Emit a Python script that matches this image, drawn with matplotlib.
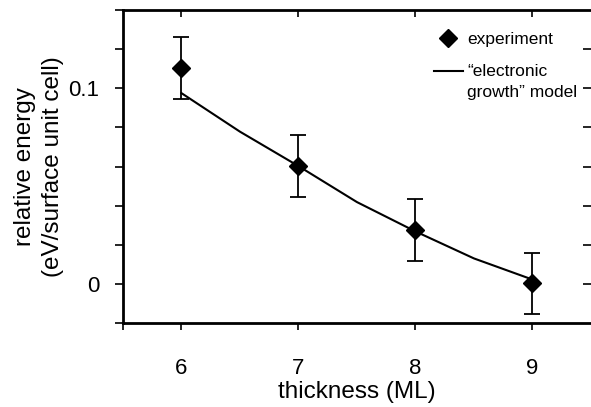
import matplotlib
matplotlib.use("Agg")
import matplotlib.pyplot as plt
from matplotlib.legend_handler import HandlerLine2D

plt.rcParams['font.family'] = ['Liberation Sans', 'DejaVu Sans']

# experiment (diamonds with error bars)
thickness = [6, 7, 8, 9]
energy = [0.1105, 0.0602, 0.0276, 0.0002]
energy_err = [0.0158, 0.0157, 0.0158, 0.0158]

# "electronic growth" model curve
model_x = [6, 6.5, 7, 7.5, 8, 8.5, 9]
model_y = [0.0975, 0.0778, 0.0602, 0.0418, 0.0268, 0.0130, 0.0022]

xticks = [5.5, 6, 7, 8, 9]
xticklabels = ['', '6', '7', '8', '9']
yticks = [-0.02, 0, 0.02, 0.04, 0.06, 0.08, 0.1, 0.12, 0.14]
yticklabels = ['', '0', '', '', '', '', '0.1', '', '']


class FirstLineHandler(HandlerLine2D):
    # put the line next to the first text line instead of the middle
    def __init__(self, rise, **kw):
        super().__init__(**kw)
        self.rise = rise

    def create_artists(self, legend, orig_handle, xdescent, ydescent,
                       width, height, fontsize, trans):
        return super().create_artists(legend, orig_handle, xdescent,
                                      ydescent - 2 * self.rise, width, height,
                                      fontsize, trans)


fig = plt.figure(figsize=(5.91, 4.07), dpi=100)
ax = fig.add_axes([0.2081, 0.2064, 0.7919, 0.769])

model_line, = ax.plot(model_x, model_y, color='black', lw=1.5,
                      label='\u201celectronic\ngrowth\u201d model')
ax.errorbar(thickness, energy, yerr=energy_err, fmt='none', ecolor='black',
            elinewidth=1.3, capsize=5.5, capthick=1.3)
exp_pts, = ax.plot(thickness, energy, 'D', color='black', ms=9, ls='none',
                   label='experiment')

ax.set_xlim(5.5, 9.5)
ax.set_ylim(-0.02, 0.14)
ax.set_xticks(xticks)
ax.set_xticklabels(xticklabels)
ax.set_yticks(yticks)
ax.set_yticklabels(yticklabels)
ax.tick_params(axis='x', direction='out', length=5, width=1.2, pad=20,
               labelsize=16)
ax.tick_params(axis='y', direction='out', length=6, width=1.2, pad=11,
               labelsize=16)

for s in ['left', 'bottom']:
    ax.spines[s].set_linewidth(2)
ax.spines['top'].set_visible(False)
ax.spines['right'].set_visible(False)

# top ticks pointing in
top = ax.secondary_xaxis('top')
top.set_xticks([6, 7, 8, 9])
top.tick_params(direction='in', length=5, width=1.2, labeltop=False)
top.spines['top'].set_linewidth(2)

# right ticks pointing in, spine outside the picture
right = ax.secondary_yaxis('right')
right.set_yticks([0, 0.02, 0.04, 0.06, 0.08, 0.1, 0.12])
right.tick_params(direction='in', length=6, width=1.2, labelright=False)
right.spines['right'].set_visible(False)

ax.set_xlabel('thickness (ML)', fontsize=17.5, labelpad=2)
ax.set_ylabel('relative energy\n(eV/surface unit cell)', fontsize=17.5,
              labelpad=3.5, linespacing=1.35)

leg = ax.legend([exp_pts, model_line],
                ['experiment', '\u201celectronic\ngrowth\u201d model'],
                loc='upper right', bbox_to_anchor=(0.986, 0.953),
                frameon=False, fontsize=12.5, handlelength=1.7,
                handletextpad=0.25, labelspacing=1.0, borderaxespad=0,
                numpoints=1, handler_map={model_line: FirstLineHandler(7.5)})
for t in leg.get_texts():
    t.set_linespacing(1.45)

fig.savefig('out.png', dpi=100)
